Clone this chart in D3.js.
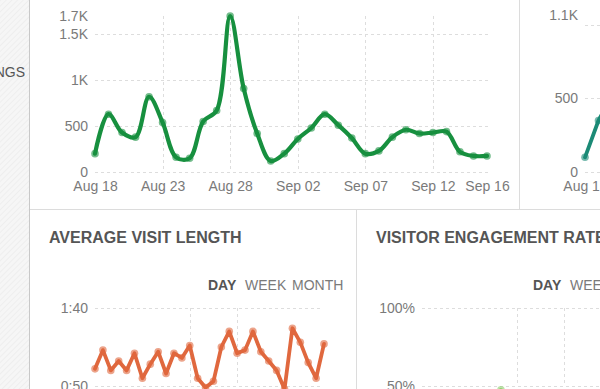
<!DOCTYPE html>
<html><head><meta charset="utf-8">
<script src="https://cdn.jsdelivr.net/npm/d3@7"></script>
<style>
html,body{margin:0;padding:0;background:#fff;overflow:hidden}
svg{display:block;font-family:"Liberation Sans",Arial,sans-serif}
</style></head>
<body>
<script>
// ---- data ----
const startDate = "2014-08-18";
const bookings = [200,630,430,380,820,540,160,150,550,670,1700,910,420,120,200,360,480,630,510,370,200,230,380,460,420,430,440,220,175,175];
const bookingTicks = [0,500,1000,1500,1700];
const bookingDateTicks = ["2014-08-18","2014-08-23","2014-08-28","2014-09-02","2014-09-07","2014-09-12","2014-09-16"];

const secondValues = [100,350,520];
const secondMax = 1060;
const secondTicks = [0,500,1000];
const secondTickLabels = ["0","500",""];
const secondTopLabel = "1.1K";

const visitLength = [61,73,60,66,60,71,55,64,72,58,71,68,76,55,49,53,75,85,71,73,85,72,66,60,48,87,78,65,55,77];
const visitTicks = [50,100];
const bottomDateTicks = ["2014-08-30","2014-09-05"];

const engagement = [30,34,32,36,38,40,35,41,42,44,47.5,43,40,38,35,37,39,41,36,34,33,35,38,40,42,39,37,36,35,38];
const engagementTicks = [50,100];

const periods = ["DAY","WEEK","MONTH"];

// ---- drawing ----
const parse = d3.timeParse("%Y-%m-%d");
const day0 = parse(startDate);
const dates = n => d3.range(n).map(i => d3.timeDay.offset(day0, i));

const svg = d3.select("body").append("svg").attr("width",600).attr("height",389);
const defs = svg.append("defs");
const pat = defs.append("pattern").attr("id","hatch").attr("patternUnits","userSpaceOnUse")
  .attr("width",4).attr("height",4).attr("patternTransform","rotate(45)");
pat.append("rect").attr("width",4).attr("height",4).attr("fill","#f6f6f6");
pat.append("line").attr("x1",0).attr("y1",0).attr("x2",0).attr("y2",4).attr("stroke","#ececec").attr("stroke-width",1.5);

svg.append("rect").attr("x",0).attr("y",0).attr("width",29).attr("height",389).attr("fill","url(#hatch)");
svg.append("line").attr("x1",29.5).attr("x2",29.5).attr("y1",0).attr("y2",389).attr("stroke","#c8c8c8");
svg.append("line").attr("x1",30).attr("x2",600).attr("y1",209.5).attr("y2",209.5).attr("stroke","#dcdcdc");
svg.append("line").attr("x1",519.5).attr("x2",519.5).attr("y1",0).attr("y2",209).attr("stroke","#dcdcdc");
svg.append("line").attr("x1",356.5).attr("x2",356.5).attr("y1",210).attr("y2",389).attr("stroke","#dcdcdc");

svg.append("text").attr("x",25).attr("y",77).attr("text-anchor","end")
  .attr("fill","#555").style("font-size","14px").text("NGS");

const kfmt = v => v >= 1000 ? (v/1000) + "K" : String(v);
const axisText = sel => sel.attr("fill","#7a7a7a").style("font-size","14px");
const grid = g => g.attr("stroke","#dddddd").attr("stroke-dasharray","3,3").attr("fill","none");

function chart(opts){
  const g = svg.append("g");
  const n = opts.values.length;
  const ds = dates(n);
  const x = d3.scaleTime().domain([ds[0], ds[n-1]]).range(opts.xr);
  const y = d3.scaleLinear().domain(opts.yd).range(opts.yr);
  g.selectAll(".hg").data(opts.hgrid).join("line")
    .attr("x1",opts.xr[0]).attr("x2",opts.gridRight || opts.xr[1])
    .attr("y1",d=>Math.round(y(d))+0.5).attr("y2",d=>Math.round(y(d))+0.5).call(grid);
  g.selectAll(".vg").data(opts.vgrid.map(parse)).join("line")
    .attr("x1",d=>Math.round(x(d))+0.5).attr("x2",d=>Math.round(x(d))+0.5)
    .attr("y1",opts.yr[1]).attr("y2",opts.yr[0]).call(grid);
  const ya = d3.axisLeft(y).tickValues(opts.yticks).tickSize(0).tickPadding(0).tickFormat(opts.yfmt);
  const yg = g.append("g").attr("transform",`translate(${opts.xr[0]-7},0)`).call(ya);
  yg.select(".domain").remove();
  yg.selectAll("text").call(axisText);
  if (opts.xticks){
    const xa = d3.axisBottom(x).tickValues(opts.xticks.map(parse)).tickSize(0).tickPadding(0).tickFormat(d3.timeFormat("%b %d"));
    const xg = g.append("g").attr("transform",`translate(0,${opts.yr[0]+9})`).call(xa);
    xg.select(".domain").remove();
    xg.selectAll("text").call(axisText);
  }
  const line = d3.line().x((d,i)=>x(ds[i])).y(d=>y(d)).curve(opts.curve || d3.curveLinear);
  g.append("path").datum(opts.values).attr("d",line).attr("fill","none")
    .attr("stroke",opts.color).attr("stroke-width",opts.sw).attr("stroke-linejoin","round").attr("stroke-linecap","round");
  g.selectAll("circle").data(opts.values).join("circle")
    .attr("cx",(d,i)=>x(ds[i])).attr("cy",d=>y(d)).attr("r",3.8)
    .attr("fill",opts.pointColor || opts.color).attr("fill-opacity",0.6);
  return {x,y,g};
}

chart({values:bookings, xr:[95,487], yd:[0,1700], yr:[172,16],
  hgrid:[0,500,1000,1500], vgrid:bookingDateTicks.slice(1,-1), gridRight:488,
  yticks:bookingTicks, yfmt:kfmt, xticks:bookingDateTicks,
  color:"#17903f", sw:4.2, curve:d3.curveCatmullRom.alpha(0.5)});

const c2 = chart({values:secondValues, xr:[585,585+13.5*(secondValues.length-1)], yd:[0,secondMax], yr:[172,16],
  hgrid:secondTicks, vgrid:[], gridRight:620,
  yticks:secondTicks, yfmt:(d,i)=>secondTickLabels[i], xticks:[startDate],
  color:"#1b8a76", sw:3.8});
c2.g.append("text").attr("x",578).attr("y",c2.y(secondMax)).attr("dy","0.32em").attr("text-anchor","end")
  .call(axisText).text(secondTopLabel);

function title(x, txt){
  svg.append("text").attr("x",x).attr("y",243).attr("fill","#555")
    .style("font-size","16px").style("font-weight","bold").text(txt);
}
title(49,"AVERAGE VISIT LENGTH");
title(376,"VISITOR ENGAGEMENT RATE");

function periodSel(x0){
  const offs = [0,37,84];
  periods.forEach((p,i)=>{
    svg.append("text").attr("x",x0+offs[i]).attr("y",290)
      .attr("fill", i===0 ? "#555" : "#7a7a7a").style("font-size","14px")
      .style("font-weight", i===0 ? "bold" : "normal").text(p);
  });
}
periodSel(208);
periodSel(533);

const mmss = v => Math.floor(v/60) + ":" + String(v%60).padStart(2,"0");
chart({values:visitLength, xr:[95,324], yd:[50,100], yr:[386,308],
  hgrid:visitTicks, vgrid:bottomDateTicks, gridRight:323,
  yticks:visitTicks, yfmt:mmss, color:"#e0683e", sw:3.8});

chart({values:engagement, xr:[422,651], yd:[50,100], yr:[386,308],
  hgrid:engagementTicks, vgrid:bottomDateTicks, gridRight:651,
  yticks:engagementTicks, yfmt:d=>d+"%", color:"#8fcf6e", sw:3.8});
</script>
</body></html>
